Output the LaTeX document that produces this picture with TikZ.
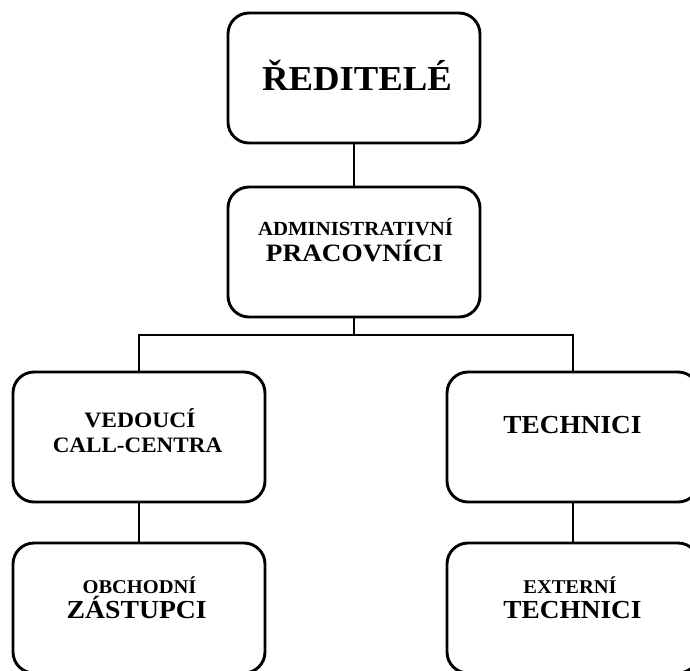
\documentclass[tikz,border=0pt]{standalone}
\usepackage{fontspec}
\usepackage{graphicx}
\setmainfont{Liberation Serif}
\newcommand\stretchtext[2][1.05]{\scalebox{#1}[1]{#2}}
\begin{document}
\begin{tikzpicture}[x=1pt,y=-1pt,
  box/.style={draw=black, line width=2.9pt, rounded corners=21pt,
    minimum width=252pt, minimum height=130pt, inner sep=0pt, fill=white},
  txt/.style={anchor=base, inner sep=0pt, font=\bfseries},
  link/.style={draw=black, line width=2.7pt}]
\useasboundingbox (0,0) rectangle (690,670);
\clip (0,0) rectangle (690,670);
\fill[white] (0,0) rectangle (690,670);

% boxes
\node[box] (dir)  at (354,78)  {};
\node[box] (adm)  at (354,252) {};
\node[box] (ved)  at (139,437) {};
\node[box] (tech) at (573,437) {};
\node[box] (obch) at (139,608) {};
\node[box] (ext)  at (573,608) {};

% connectors
\coordinate (hub) at (354,335);
\draw[link] (dir.south) -- (adm.north);
\draw[link] (adm.south) -- (hub);
\draw[link] (ved.north) |- (hub) -| (tech.north);
\draw[link] (ved.south) -- (obch.north);
\draw[link] (tech.south) -- (ext.north);

% labels
\node[txt, font=\bfseries\fontsize{35}{35}\selectfont] (dirT) at (357,90) {\stretchtext{ŘEDITELÉ}};
\node[txt, font=\bfseries\fontsize{20}{20}\selectfont] (admT1) at (355.5,235) {\stretchtext[1.04]{ADMINISTRATIVNÍ}};
\node[txt, font=\bfseries\fontsize{25}{25}\selectfont] (admT2) at (354.5,261) {\stretchtext[1.09]{PRACOVNÍCI}};
\node[txt, font=\bfseries\fontsize{22}{22}\selectfont] (vedT1) at (140,427) {\stretchtext[1.07]{VEDOUCÍ}};
\node[txt, font=\bfseries\fontsize{22}{22}\selectfont] (vedT2) at (137.5,452) {\stretchtext{CALL-CENTRA}};
\node[txt, font=\bfseries\fontsize{26}{26}\selectfont] (techT) at (572.5,433) {\stretchtext{TECHNICI}};
\node[txt, font=\bfseries\fontsize{19.5}{19.5}\selectfont] (obchT1) at (139.5,593) {\stretchtext{OBCHODNÍ}};
\node[txt, font=\bfseries\fontsize{26}{26}\selectfont] (obchT2) at (136.7,618) {\stretchtext[1.065]{ZÁSTUPCI}};
\node[txt, font=\bfseries\fontsize{19.5}{19.5}\selectfont] (extT1) at (570,593) {\stretchtext{EXTERNÍ}};
\node[txt, font=\bfseries\fontsize{26}{26}\selectfont] (extT2) at (572.5,618) {\stretchtext{TECHNICI}};
\end{tikzpicture}
\end{document}
